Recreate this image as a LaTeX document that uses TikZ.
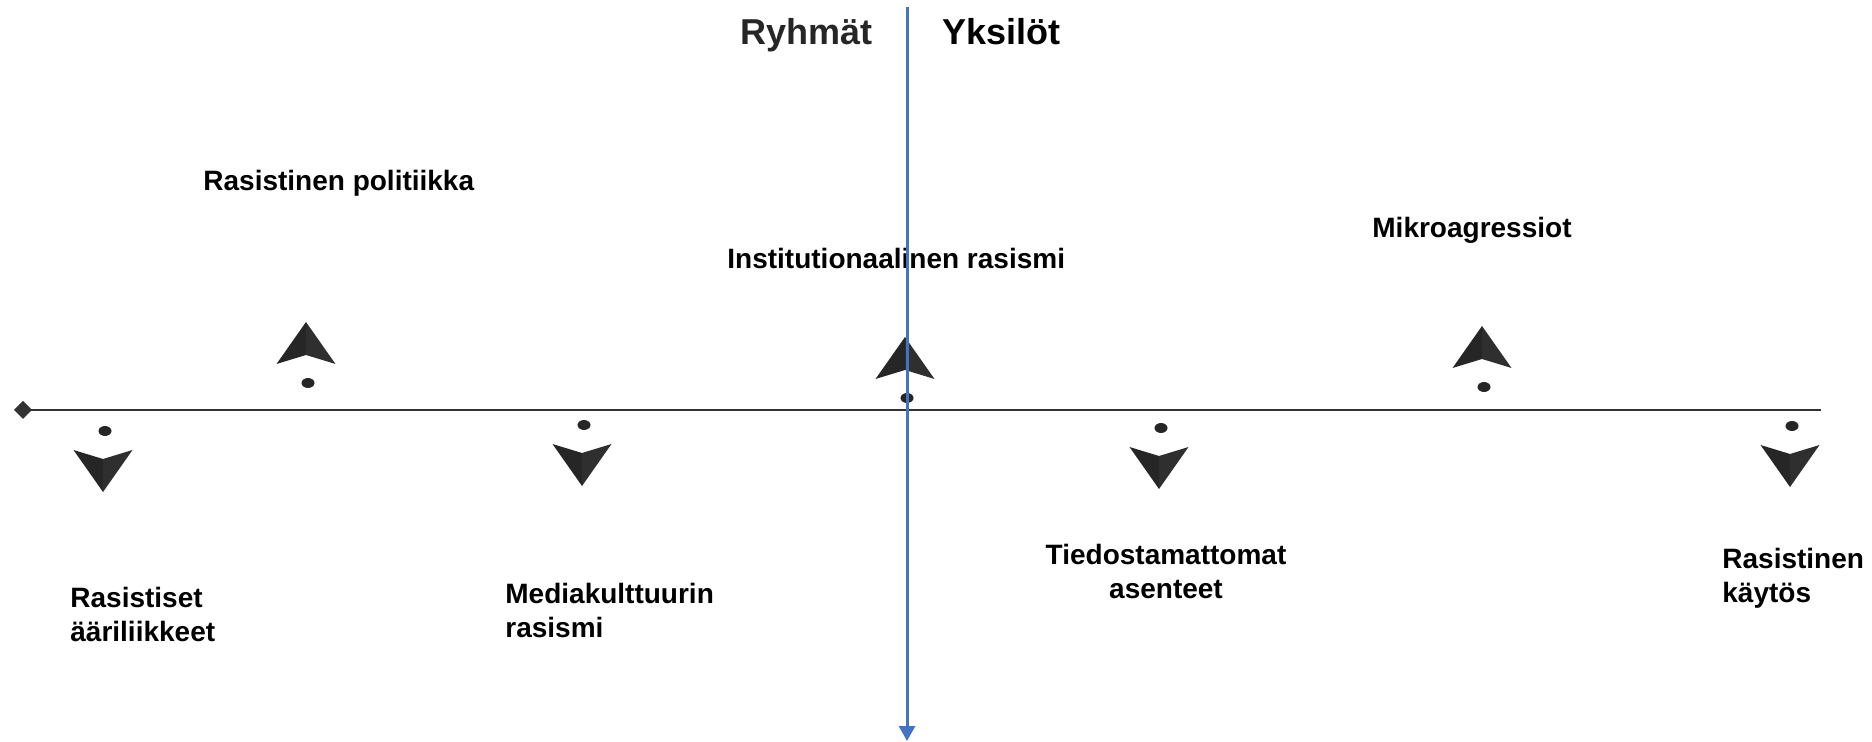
\documentclass[tikz,border=0pt]{standalone}
\usepackage{fontspec}
\setmainfont{Liberation Sans}
\usetikzlibrary{arrows.meta,positioning}
\definecolor{axisBlue}{HTML}{4472C4}
\definecolor{markGray}{HTML}{262626}
\definecolor{lineGray}{HTML}{333333}

\begin{document}
\begin{tikzpicture}[
    x=0.5pt,y=-0.5pt,
    lbl/.style={font=\fontsize{14}{17}\selectfont\bfseries,inner sep=0pt,align=left},
    headlbl/.style={font=\fontsize{18}{21}\selectfont\bfseries,inner sep=0pt},
    mark/.pic={
      \fill[markGray] (0,0) ellipse (6.5 and 5);
      \fill[markGray] (-31.5,19) -- (-2,28) -- (-2,61) -- cycle;
      \fill[markGray!96!white] (-2,28) -- (27.5,19) -- (-2,61) -- cycle;
    }
  ]
  \useasboundingbox (0,0) rectangle (1872,742);

  % time axis
  \coordinate (axisL) at (14,410);
  \coordinate (axisR) at (1821,410);
  \draw[lineGray,line width=1.4pt,{Diamond[length=9pt,width=9pt]}-] (axisL) -- (axisR);

  % markers: down ones below, up ones above the axis
  \pic at (105,431)  {mark};
  \pic[yscale=-1] at (308,383) {mark};
  \pic at (584,425)  {mark};
  \pic[yscale=-1] at (907,398) {mark};
  \pic at (1161,428) {mark};
  \pic[yscale=-1] at (1484,387) {mark};
  \pic at (1792,426) {mark};

  % labels (base = last line)
  \node[lbl,anchor=base west] (politiikka) at (203,191) {Rasistinen politiikka};
  \node[lbl,anchor=base west] (instit) at (727,269) {Institutionaalinen rasismi};
  \node[lbl,anchor=base west] (mikro) at (1372,238) {Mikroagressiot};
  \node[lbl,anchor=base west] (aari) at (70,641) {Rasistiset\\ääriliikkeet};
  \node[lbl,anchor=base west] (media) at (505,637) {Mediakulttuurin\\rasismi};
  \node[lbl,align=center,anchor=base] (asenteet) at (1166,598) {Tiedostamattomat\\asenteet};
  \node[lbl,anchor=base west] (kaytos) at (1722,602) {Rasistinen\\käytös};

  % headings
  \node[headlbl,text=black!85,anchor=base west] (ryhmat) at (740,45) {Ryhmät};
  \node[headlbl,anchor=base west] (yksilot) at (942,45) {Yksilöt};

  % dividing arrow
  \coordinate (splitTop) at (907,7);
  \coordinate (splitBot) at (907,741);
  \draw[axisBlue,line width=1.5pt,-{Triangle[length=7.5pt,width=8pt]}] (splitTop) -- (splitBot);
\end{tikzpicture}
\end{document}
